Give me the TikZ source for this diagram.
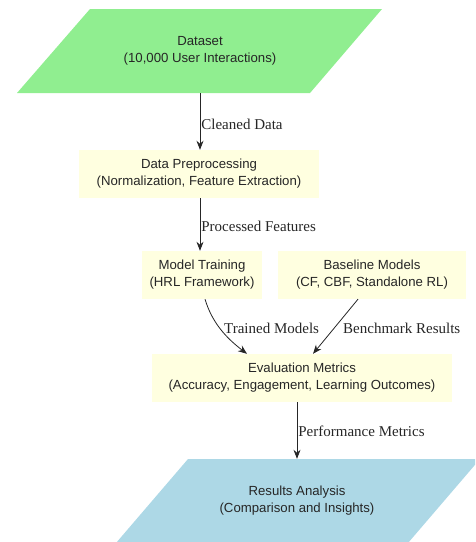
\documentclass[tikz,border=0pt]{standalone}
\usepackage{fontspec}
\setmainfont{Liberation Serif}
\setsansfont{Liberation Sans}
\usetikzlibrary{arrows.meta}
\definecolor{dsgreen}{HTML}{90EE90}
\definecolor{resblue}{HTML}{ADD8E6}
\definecolor{boxyellow}{HTML}{FFFFE0}
\begin{document}
\begin{tikzpicture}[x=1pt,y=-1pt,
  txt/.style={font=\sffamily\fontsize{13.2}{17}\selectfont, align=center, text=black!85, inner sep=0pt},
  ybox/.style={txt, fill=boxyellow, rectangle},
  elabel/.style={font=\fontsize{15}{17}\selectfont, text=black!85, anchor=west, inner sep=0pt},
  flow/.style={-{Stealth[length=9pt,width=7pt]}, line width=0.8pt, black!85}]
\useasboundingbox (0,0) rectangle (475,542);
\begin{scope}
\clip (0,0) rectangle (475,542);
% Parallelograms
\fill[dsgreen] (90,9) -- (382,9) -- (310,93) -- (17,93) -- cycle;
\fill[resblue] (188,459) -- (480,459) -- (408,543) -- (116,543) -- cycle;
\end{scope}
% Nodes
\node[txt, minimum height=84pt] (ds) at (200,51) {Dataset\\(10,000 User Interactions)};
\node[ybox, minimum width=240pt, minimum height=48pt] (pre) at (199,174) {Data Preprocessing\\(Normalization, Feature Extraction)};
\node[ybox, minimum width=120pt, minimum height=48pt] (mt) at (202,275) {Model Training\\(HRL Framework)};
\node[ybox, minimum width=188pt, minimum height=48pt] (bm) at (372,275) {Baseline Models\\(CF, CBF, Standalone RL)};
\node[ybox, minimum width=300pt, minimum height=48pt] (ev) at (302,378) {Evaluation Metrics\\(Accuracy, Engagement, Learning Outcomes)};
\node[txt, minimum height=83pt] (ra) at (297,500.5) {Results Analysis\\(Comparison and Insights)};
% Connectors
\draw[flow] (ds.south -| 200,0) -- (pre.north -| 200,0) node[elabel, midway, xshift=1pt, yshift=-3pt] {Cleaned Data};
\draw[flow] (pre.south -| 200,0) -- (mt.north -| 200,0) node[elabel, midway, xshift=1pt, yshift=-2pt] {Processed Features};
\draw[flow] (mt.south -| 205,0) .. controls (212,322) and (225,337) .. (ev.north -| 247,0);
\node[elabel] (lt) at (224,328) {Trained Models};
\draw[flow] (bm.south -| 358,0) -- (ev.north -| 313,0);
\node[elabel] (lb) at (343,328) {Benchmark Results};
\draw[flow] (ev.south -| 297,0) -- (ra.north -| 297,0) node[elabel, midway, xshift=1pt, yshift=-1pt] {Performance Metrics};
\end{tikzpicture}
\end{document}
